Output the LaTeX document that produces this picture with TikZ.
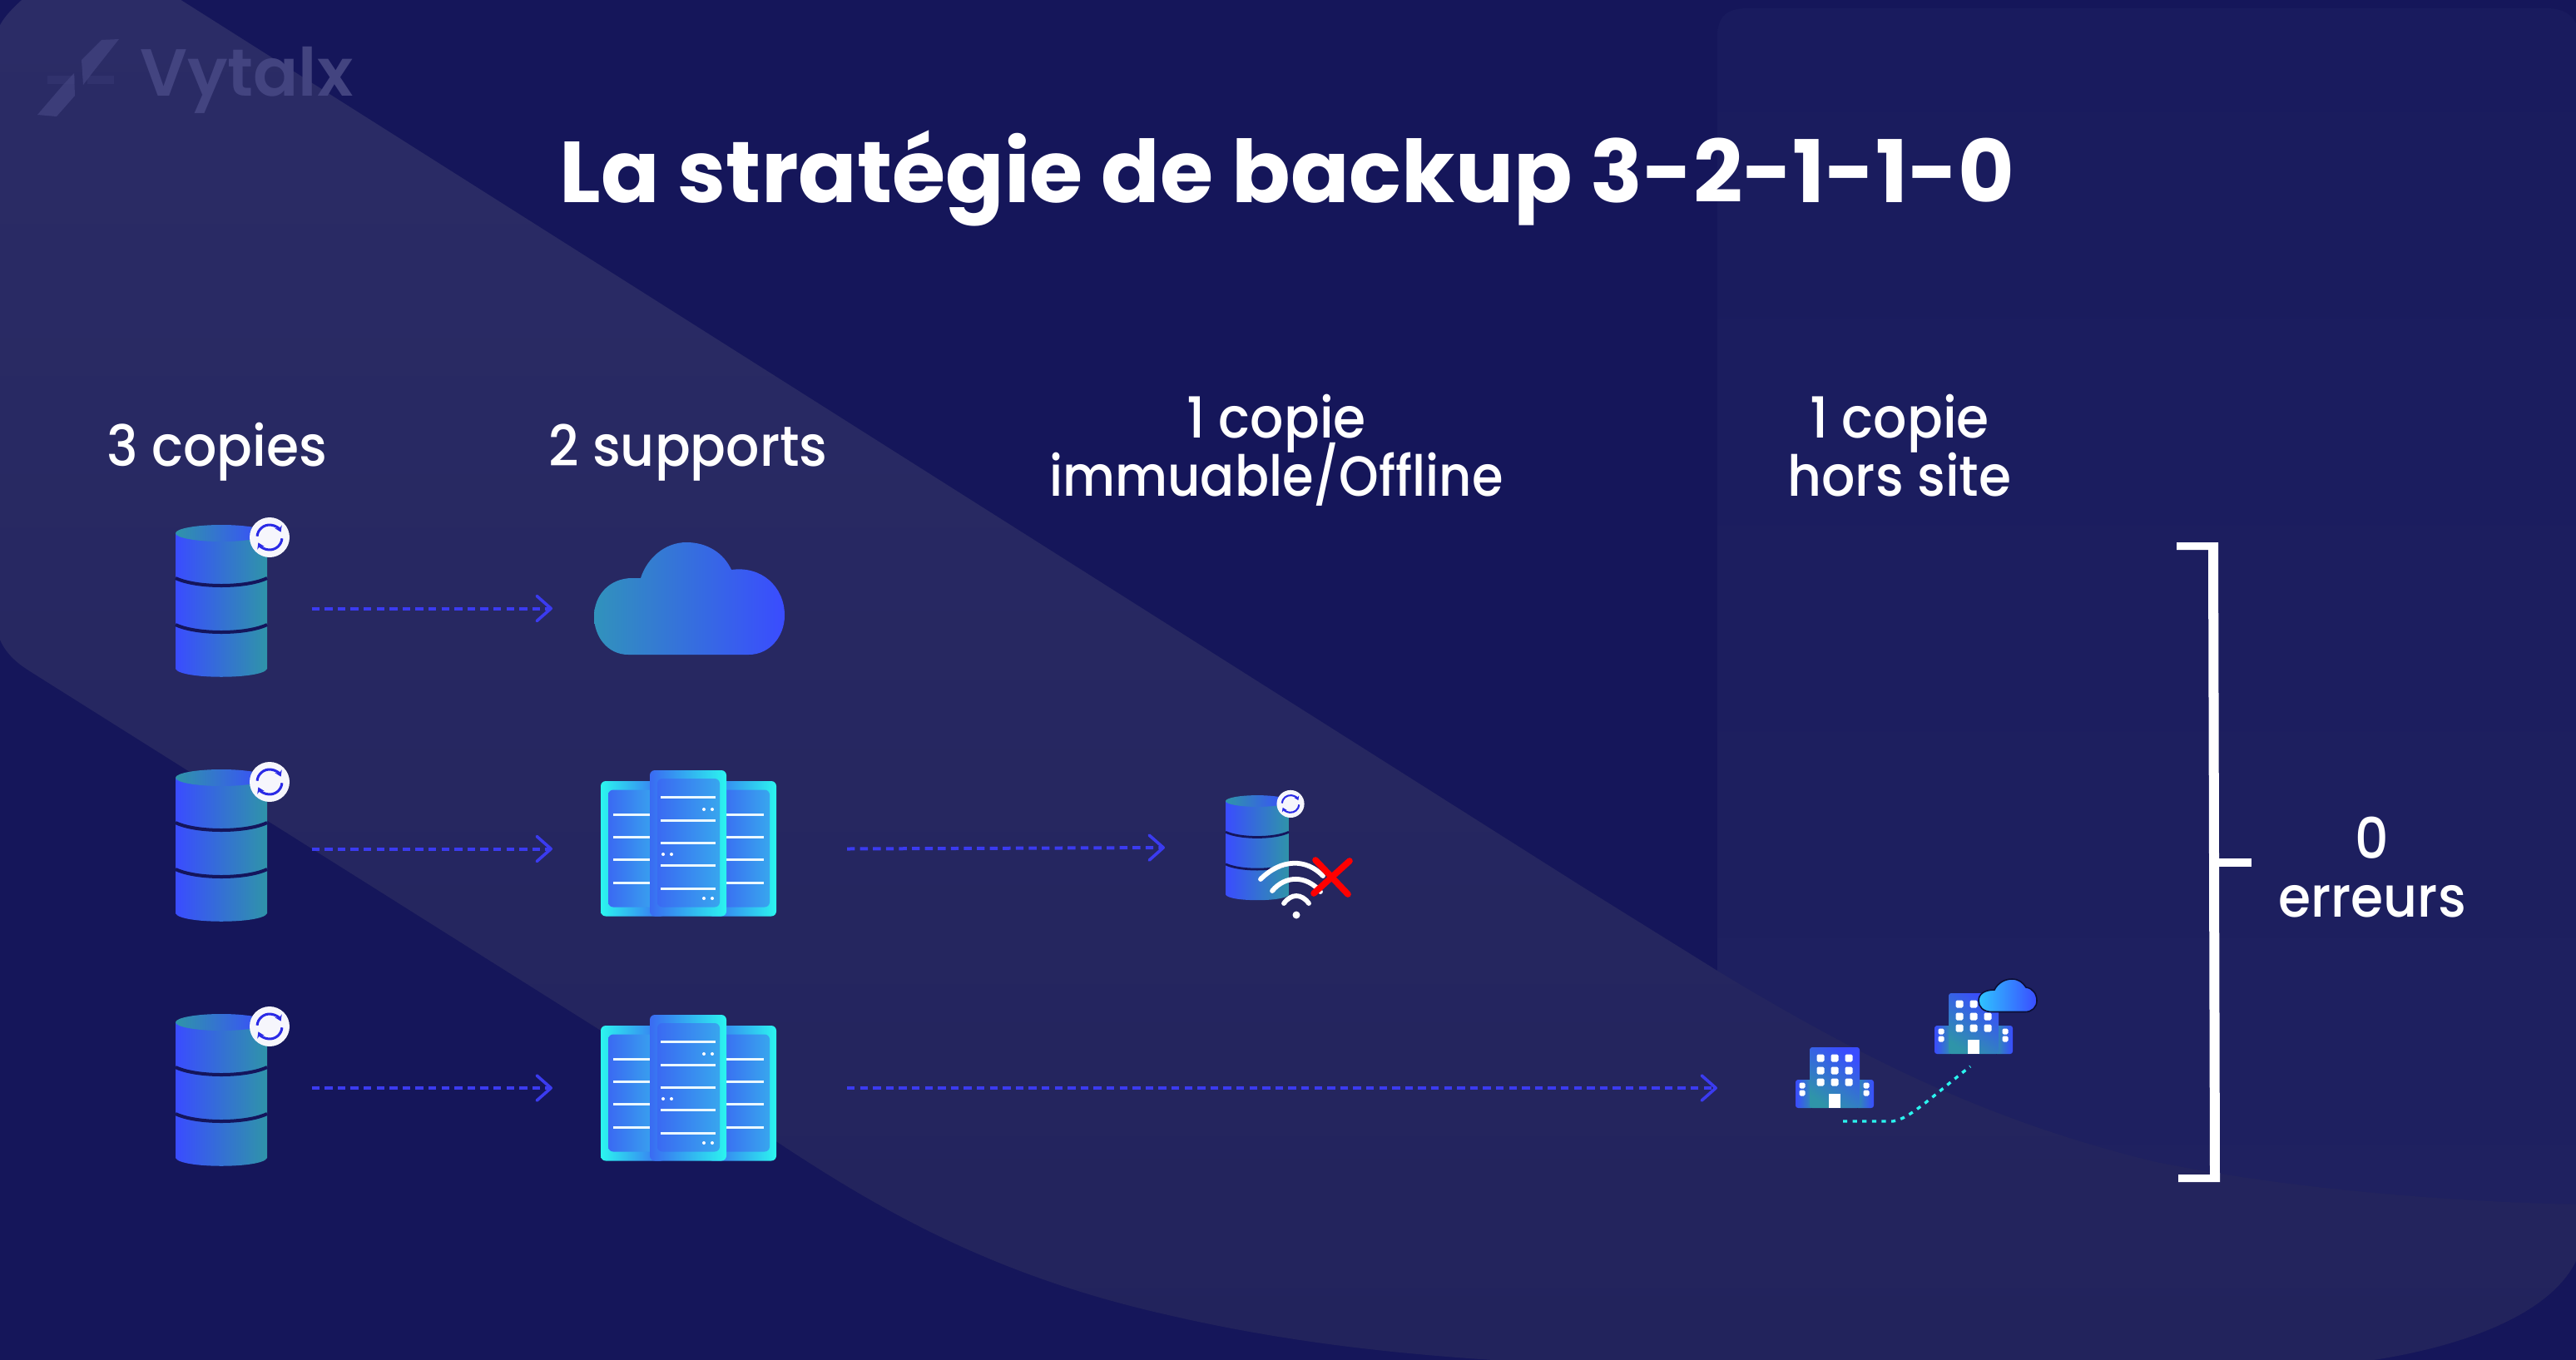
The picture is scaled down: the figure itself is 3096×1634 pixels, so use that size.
\documentclass[tikz,border=0pt]{standalone}
\usepackage{fontspec}
\setmainfont{Poppins Medium}[FakeStretch=0.93]
\newfontfamily\semib{Poppins SemiBold}
\newfontfamily\boldt{Poppins Bold}
\usetikzlibrary{arrows.meta}
\newcommand\tightlines{\lineskip 0pt \lineskiplimit -1000pt\relax}
\definecolor{bgc}{HTML}{15165A}
\definecolor{panelA}{HTML}{191B5E}
\definecolor{panelB}{HTML}{1F2160}
\definecolor{bandA}{HTML}{2B2C66}
\definecolor{bandB}{HTML}{22235C}
\definecolor{ccA}{HTML}{2FC4FF}
\definecolor{ccE}{HTML}{0B0E35}
\definecolor{dbblue}{HTML}{3A4CFF}
\definecolor{dbteal}{HTML}{2F94A9}
\definecolor{cloudl}{HTML}{3192BC}
\definecolor{flowc}{HTML}{3B3BF0}
\definecolor{darkl}{HTML}{14155C}
\definecolor{badgew}{HTML}{F6F6FC}
\definecolor{badgeb}{HTML}{2A2AE6}
\definecolor{cyanc}{HTML}{2BF5EF}
\definecolor{rackb}{HTML}{3A6AF2}
\definecolor{rackm}{HTML}{38A6EE}
\definecolor{logoc}{HTML}{434480}
\tikzset{
  flow/.style={draw=flowc,line width=2pt,dash pattern=on 4.7pt off 3.1pt,-{Straight Barb[length=8.5pt,width=15pt,line width=1.8pt,round]}},
  slot/.style={inner sep=0pt,outer sep=0pt,minimum height=0pt},
  label/.style={text=white,font=\fontsize{34}{35}\selectfont\tightlines,align=center,anchor=base},
  winw/.style={fill=white,rounded corners=0.8pt},
  srvline/.style={draw=white!92!cyan,line width=1.5pt},
  srvdot/.style={fill=white},
  brk/.style={fill=white},
}
\newcommand\dbicon[3]{%
\begin{scope}[shift={(#1,#2)},scale=#3]
  \path[left color=dbblue,right color=dbteal] (-55,0) -- (-55,163) .. controls (-50,176) and (50,176) .. (55,163) -- (55,0) -- cycle;
  \path[left color=dbteal,right color=dbblue] (0,0) ellipse [x radius=55,y radius=10];
  \draw[darkl,line width=#3*2pt] (-55,54) .. controls (-30,66) and (30,66) .. (55,54);
  \draw[darkl,line width=#3*2pt] (-55,110) .. controls (-30,122) and (30,122) .. (55,110);
  \fill[badgew] (58,5) circle [radius=24];
  \begin{scope}[shift={(58,5)}]
    \draw[badgeb,line width=#3*1.5pt,-{Stealth[length=#3*3.5pt,width=#3*4.5pt]}] (-175:15) arc [start angle=-175,end angle=-25,radius=15];
    \draw[badgeb,line width=#3*1.5pt,-{Stealth[length=#3*3.5pt,width=#3*4.5pt]}] (5:15) arc [start angle=5,end angle=155,radius=15];
  \end{scope}
\end{scope}}
\newcommand\servericon[1]{%
\begin{scope}[shift={(0,#1)}]
  \path[left color=cyanc,right color=rackb,rounded corners=3pt] (722,939) rectangle (800,1101.5);
  \path[left color=rackb,right color=cyanc,rounded corners=3pt] (850,939) rectangle (933,1101.5);
  \path[left color=rackb,right color=rackm,rounded corners=3pt] (731,949.5) rectangle (790,1090.5);
  \path[left color=rackb,right color=rackm,rounded corners=3pt] (865,949.5) rectangle (925,1090.5);
  \foreach \yy in {979,1006,1033.5,1061} {
    \draw[srvline] (737,\yy) -- (785,\yy);
    \draw[srvline] (870,\yy) -- (918,\yy);
  }
  \path[left color=rackb,right color=cyanc,rounded corners=3pt] (781,926) rectangle (873,1101.5);
  \path[left color=rackb,right color=rackm,rounded corners=3pt] (790,936) rectangle (865,1090.5);
  \foreach \yy in {958.5,986,1013,1040,1068} \draw[srvline] (794,\yy) -- (860,\yy);
  \foreach \xx/\yy in {846/973,856/973,797/1027,807/1027,846/1080,856/1080} \fill[srvdot] (\xx,\yy) circle [radius=2];
\end{scope}}
\newcommand\bldg[2]{%
\begin{scope}[shift={(#1,#2)}]
  \path[left color=dbblue,right color=dbteal,rounded corners=1.5pt] (2158,1298) rectangle (2180,1332);
  \path[left color=dbteal,right color=dbblue,rounded corners=1.5pt] (2230,1298) rectangle (2252,1332);
  \path[top color=dbblue,bottom color=dbteal,rounded corners=1.5pt,shading angle=-35] (2175,1259) rectangle (2235,1332);
  \foreach \xx in {2188,2205,2222} \foreach \yy in {1272,1287,1301} \fill[winw] (\xx-4.5,\yy-4.5) rectangle (\xx+4.5,\yy+4.5);
  \foreach \xx in {2166,2243} \foreach \yy in {1305,1314} \fill[winw] (\xx-3.5,\yy-3.5) rectangle (\xx+3.5,\yy+3.5);
  \fill[white] (2198,1315) rectangle (2212,1332);
\end{scope}}
\begin{document}
\begin{tikzpicture}[x=0.5pt,y=-0.5pt]
\useasboundingbox (0,0) rectangle (3096,1634);
\fill[bgc] (-6,-6) rectangle (3102,1640);
% right panel
\path[top color=panelA,bottom color=panelB] (2064,1500) -- (2064,45) .. controls (2064,20) and (2075,10) .. (2100,10) -- (3060,10) .. controls (3085,10) and (3096,20) .. (3102,45) -- (3102,1500) -- cycle;
% band
\path[top color=bandA,bottom color=bandB] (33,-6) .. controls (12,12) and (-6,30) .. (-6,52) -- (-6,745) .. controls (-3,775) and (12,792) .. (36,807) -- (727,1242) -- (900,1350) .. controls (1040,1445) and (1180,1530) .. (1400,1580) .. controls (1550,1615) and (1700,1632) .. (1890,1640) -- (2815,1640) .. controls (2950,1625) and (3080,1580) .. (3102,1500) -- (3102,1448) .. controls (2950,1445) and (2750,1430) .. (2587,1396) .. controls (2400,1350) and (2250,1280) .. (2064,1167) -- (1900,1065) -- (208,-6) -- cycle;
% logo
\fill[logoc,opacity=.75] (143,47) -- (122,48) -- (98,72) -- (100,102) -- (113,85) -- cycle;
\fill[logoc,opacity=.75] (45,138) -- (68,140) -- (90,115) -- (89,88) -- (75,103) -- cycle;
\fill[logoc,opacity=.3] (57,91) rectangle (90,101);
\fill[logoc,opacity=.3] (105,91) rectangle (137,101);
\node[text=logoc,font=\semib\fontsize{40}{40}\selectfont,anchor=base west,inner sep=0pt] (logo) at (168,115) {Vytalx};
% title and labels
\node[text=white,font=\boldt\fontsize{52}{52}\selectfont,anchor=base,inner sep=0pt] (title) at (1547,243) {La stratégie de backup 3-2-1-1-0};
\node[label] (l1) at (261,560) {3 copies};
\node[label] (l2) at (827,560) {2 supports};
\node[label] (l3) at (1534,596) {1 copie\\\scalebox{0.96}[1]{immuable/Offline}};
\node[label] (l4) at (2283,596) {1 copie\\hors site};
\node[label] (l5) at (2851,1102) {0\\erreurs};
% databases
\dbicon{266}{641}{1}
\dbicon{266}{935}{1}
\dbicon{266}{1229}{1}
% cloud
\path[left color=cloudl,right color=dbblue] (755,787) .. controls (730,787) and (714,765) .. (714,741) .. controls (714,716) and (732,695) .. (760,695) -- (770,695) .. controls (778,670) and (800,652) .. (825,652) .. controls (850,652) and (870,665) .. (879,685) .. controls (915,680) and (943,705) .. (943,740) .. controls (943,765) and (925,787) .. (900,787) -- cycle;
% servers
\servericon{0}
\servericon{294}
% small db, wifi, cross
\dbicon{1511}{963}{0.69}
\fill[white] (1558,1100) circle [radius=4.5];
\draw[white,line width=2.9pt,line cap=round] (1515,1057) .. controls (1540,1032) and (1570,1032) .. (1590,1053);
\draw[white,line width=2.9pt,line cap=round] (1529,1071) .. controls (1545,1052) and (1570,1052) .. (1587,1072);
\draw[white,line width=2.9pt,line cap=round] (1543,1086) .. controls (1552,1074) and (1564,1074) .. (1573,1086);
\draw[red,line width=3.8pt,line cap=round] (1581,1034) -- (1620,1075);
\draw[red,line width=3.8pt,line cap=round] (1622,1035) -- (1579,1074);
% buildings
\bldg{0}{0}
\bldg{167}{-65}
\path[left color=ccA,right color=dbblue,draw=ccE,line width=0.8pt] (2394,1216.5) .. controls (2383,1216.5) and (2378,1210) .. (2378,1203) .. controls (2378,1195) and (2385,1190) .. (2397,1190) .. controls (2401,1182) and (2409,1177) .. (2418,1177) .. controls (2426,1177) and (2431,1181) .. (2435,1187) .. controls (2443,1188) and (2448,1195) .. (2448,1203) .. controls (2448,1211) and (2442,1216.5) .. (2434,1216.5) -- cycle;
\coordinate (bA) at (2215,1348);
\coordinate (bB) at (2368,1282);
\draw[cyanc,line width=1.7pt,dash pattern=on 2.6pt off 3.2pt] (bA) -- (2275,1348) .. controls (2295,1345) and (2320,1320) .. (bB);
% bracket
\fill[brk] (2616,652) -- (2666,652) -- (2668,1421) -- (2618,1421) -- (2618,1412) -- (2656,1412) -- (2654,661) -- (2616,661) -- cycle;
\fill[brk] (2666,1032) rectangle (2706,1042);
% connector anchors
\node[slot,minimum width=108.5pt] (db1) at (266,731.5) {};
\node[slot,minimum width=108.5pt] (db2) at (266,1020.5) {};
\node[slot,minimum width=108.5pt] (db3) at (266,1308) {};
\node[slot,minimum width=118pt] (cloud) at (782,731.5) {};
\node[slot,minimum width=177pt] (srv1) at (841,1020.5) {};
\node[slot,minimum width=177pt] (srv2) at (841,1308) {};
\node[slot,minimum width=110pt] (sdb) at (1510,1019) {};
\node[slot,minimum width=146pt] (site) at (2210,1308) {};
\draw[flow] (db1.east) -- (cloud.west);
\draw[flow] (db2.east) -- (srv1.west);
\draw[flow] (db3.east) -- (srv2.west);
\draw[flow] (srv1.east) -- (sdb.west);
\draw[flow] (srv2.east) -- (site.west);
\end{tikzpicture}
\end{document}
